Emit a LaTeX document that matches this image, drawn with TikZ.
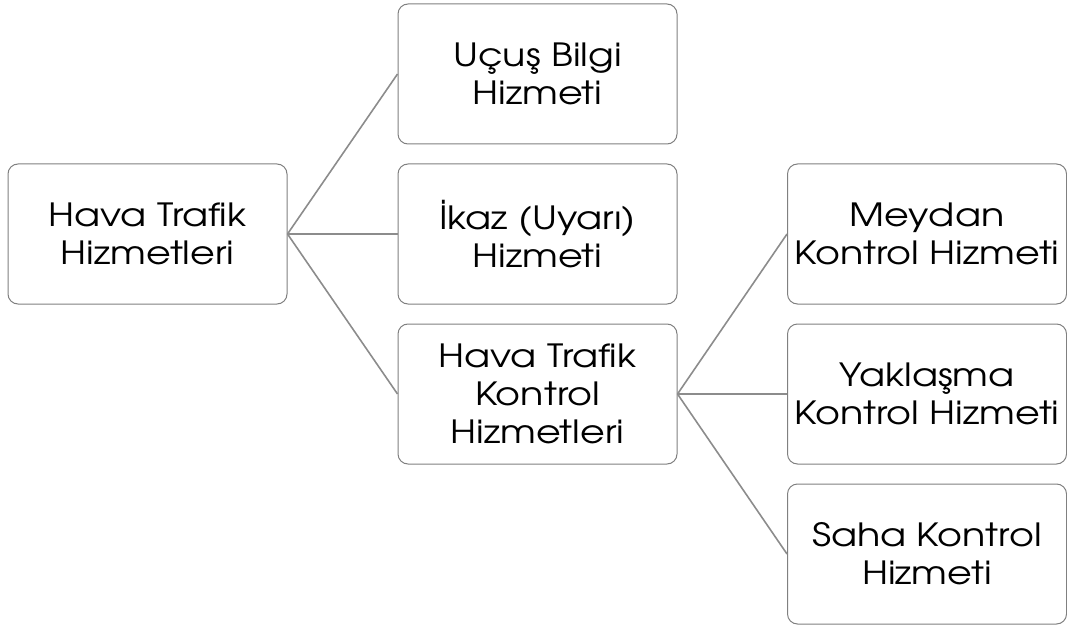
\documentclass[tikz,border=0pt]{standalone}
\usepackage{fontspec}
\setmainfont{TeX Gyre Adventor}[FakeStretch=1.19]
\begin{document}
\begin{tikzpicture}[x=1pt,y=-1pt,
  box/.style={draw=black!50, line width=1pt, rounded corners=10pt, fill=white,
    minimum width=279pt, minimum height=140pt, align=center, inner sep=0pt,
    font=\fontsize{32}{38}\selectfont, text=black},
  link/.style={draw=black!45, line width=1.6pt}]
\useasboundingbox (0,0) rectangle (1067,628);
% first level
\node[box] (root) at (147.5,234) {Hava Trafik\\Hizmetleri};
% second level
\node[box] (ucus) at (537.5,74) {Uçuş Bilgi\\Hizmeti};
\node[box] (ikaz) at (537.5,234) {İkaz (Uyarı)\\Hizmeti};
\node[box] (htk) at (537.5,394) {Hava Trafik\\Kontrol\\Hizmetleri};
% third level
\node[box] (meydan) at (927,234) {Meydan\\Kontrol Hizmeti};
\node[box] (yaklasma) at (927,394) {Yaklaşma\\Kontrol Hizmeti};
\node[box] (saha) at (927,554) {Saha Kontrol\\Hizmeti};
% connectors
\foreach \c in {ucus,ikaz,htk} \draw[link] (root.east) -- (\c.west);
\foreach \c in {meydan,yaklasma,saha} \draw[link] (htk.east) -- (\c.west);
\end{tikzpicture}
\end{document}
